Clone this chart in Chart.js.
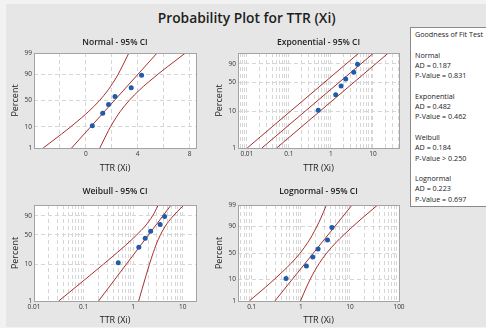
<!DOCTYPE html>
<html>
<head>
<meta charset="utf-8">
<script src="https://cdn.jsdelivr.net/npm/chart.js@4.4.1/dist/chart.umd.min.js"></script>
<style>
  html, body { margin: 0; padding: 0; }
  body { width: 486px; height: 328px; background: #f2f2f2; position: relative; overflow: hidden; font-family: "Open Sans", sans-serif; }
  #panel { position: absolute; left: 6px; top: 4px; width: 480px; height: 323px; background: #e6e6e6; }
  #title { position: absolute; left: 96.7px; width: 300px; top: 8.3px; line-height: 20px; text-align: center; font-weight: 600; font-size: 13.8px; color: #1e1e1e; }
  canvas { position: absolute; }
  #gof { position: absolute; left: 410px; top: 27px; width: 90px; height: 180px; box-sizing: border-box; background: #fff; border: 1px solid #8a8a8a; padding: 1px 0 0 4px; font-size: 7.2px; line-height: 10.3px; color: #222; white-space: pre; }
</style>
</head>
<body>
<div id="panel"></div>
<div id="title">Probability Plot for TTR (Xi)</div>
<canvas id="normal" width="205" height="145" style="left:0px;top:32px"></canvas>
<canvas id="expo" width="205" height="145" style="left:204px;top:32px"></canvas>
<canvas id="weibull" width="205" height="144" style="left:0px;top:184px"></canvas>
<canvas id="lognorm" width="205" height="144" style="left:204px;top:184px"></canvas>
<div id="gof"></div>
<script>
// Data
const ttr = [0.5, 1.3, 1.75, 2.25, 3.5, 4.3];
const percent = [10.9, 26.6, 42.2, 57.8, 73.4, 89.1];
const fitPercent = [1, 99];
const ciPercent = [1, 5, 10, 20, 30, 50, 70, 80, 90, 95, 99];

const normalFit = [-1.10, 5.50];
const normalLower = [-3.29, -1.88, -1.15, -0.32, 0.24, 1.06, 1.73, 2.07, 2.49, 2.79, 3.32];
const normalUpper = [1.08, 1.61, 1.91, 2.33, 2.67, 3.34, 4.16, 4.72, 5.55, 6.28, 7.69];

const expFit = [0.0228, 10.4];
const expLower = [0.0102, 4.65];
const expUpper = [0.0511, 23.3];

const weibullFit = [0.2, 5.82];
const weibullLower = [0.0315, 0.134, 0.252, 0.481, 0.71, 1.19, 1.75, 2.06, 2.46, 2.75, 3.2];
const weibullUpper = [1.29, 1.82, 2.13, 2.55, 2.88, 3.56, 4.47, 5.2, 6.44, 7.71, 10.6];

const lognormFit = [0.296, 11.07];
const lognormLower = [0.0893, 0.194, 0.288, 0.455, 0.62, 0.973, 1.40, 1.69, 2.12, 2.51, 3.33];
const lognormUpper = [0.984, 1.31, 1.55, 1.94, 2.34, 3.37, 5.29, 7.21, 11.4, 16.9, 36.7];

// Tick labels
const normalXTicks = [-2, 0, 2, 4, 6, 8];
const normalXLabels = [0, 4, 8];
const expXLabels = [0.01, 0.1, 1, 10];
const weibullXLabels = [0.01, 0.1, 1, 10];
const lognormXLabels = [0.1, 1, 10, 100];
const yTicksFull = [1, 10, 50, 90, 99];
const yTicksShort = [1, 10, 50, 90];

// Goodness of fit table
const gofNames = ["Normal", "Exponential", "Weibull", "Lognormal"];
const gofAD = ["0.187", "0.482", "0.184", "0.223"];
const gofP = ["= 0.831", "= 0.462", "> 0.250", "= 0.697"];

const RED = "#a8302f";
const BLUE = "#1f5ba8";

// Probability scale transforms
function probit(p) {
  const a = [-39.69683028665376, 220.9460984245205, -275.9285104469687, 138.3577518672690, -30.66479806614716, 2.506628277459239];
  const b = [-54.47609879822406, 161.5858368580409, -155.6989798598866, 66.80131188771972, -13.28068155288572];
  const c = [-0.007784894002430293, -0.3223964580411365, -2.400758277161838, -2.549732539343734, 4.374664141464968, 2.938163982698783];
  const d = [0.007784695709041462, 0.3224671290700398, 2.445134137142996, 3.754408661907416];
  const tail = q => (((((c[0] * q + c[1]) * q + c[2]) * q + c[3]) * q + c[4]) * q + c[5]) / ((((d[0] * q + d[1]) * q + d[2]) * q + d[3]) * q + 1);
  if (p < 0.02425) return tail(Math.sqrt(-2 * Math.log(p)));
  if (p > 1 - 0.02425) return -tail(Math.sqrt(-2 * Math.log(1 - p)));
  const q = p - 0.5, r = q * q;
  return (((((a[0] * r + a[1]) * r + a[2]) * r + a[3]) * r + a[4]) * r + a[5]) * q / (((((b[0] * r + b[1]) * r + b[2]) * r + b[3]) * r + b[4]) * r + 1);
}
const normalY = pct => probit(pct / 100);
const weibullY = pct => Math.log(-Math.log(1 - pct / 100));

const logGrid = (min, max) => {
  const out = [];
  for (let e = -3; e <= 2; e++)
    for (let m = 1; m < 10; m++) {
      const v = +(m * Math.pow(10, e)).toPrecision(3);
      if (v >= min && v <= max) out.push(v);
    }
  return out;
};

Chart.defaults.font.family = '"Open Sans", sans-serif';
Chart.defaults.color = "#333";

// white plot area, frame and panel title
const panelPlugin = {
  id: "panel",
  beforeDraw(chart) {
    const { ctx, chartArea: a } = chart;
    ctx.save();
    ctx.fillStyle = "#fff";
    ctx.fillRect(a.left, a.top, a.width, a.height);
    ctx.restore();
  },
  afterDraw(chart, args, opts) {
    const { ctx, chartArea: a } = chart;
    ctx.save();
    ctx.strokeStyle = "#a3a3a3";
    ctx.lineWidth = 1;
    ctx.strokeRect(Math.round(a.left) + 0.5, Math.round(a.top) + 0.5, Math.round(a.width), Math.round(a.height));
    ctx.fillStyle = "#222";
    ctx.font = '600 8.5px "Open Sans"';
    ctx.textAlign = "center";
    ctx.textBaseline = "middle";
    ctx.fillText(opts.text, (a.left + a.right) / 2, a.top - opts.offset);
    ctx.restore();
  }
};

function makePanel(id, cfg) {
  const yf = cfg.yf;
  const line = (xs, pcts, curved) => ({
    data: xs.map((x, i) => ({ x, y: yf(pcts[i]) })),
    showLine: true,
    borderColor: RED,
    borderWidth: 1,
    pointRadius: 0,
    cubicInterpolationMode: curved ? "monotone" : "default"
  });
  const xTicks = cfg.log ? logGrid(cfg.xMin, cfg.xMax) : cfg.xTicks;
  const isLabel = v => cfg.xLabels.some(l => Math.abs(l - v) < 1e-9);
  const grid = { color: "#d6d6d6", drawTicks: false };
  const border = { display: false, dash: [4, 3] };

  new Chart(document.getElementById(id), {
    type: "scatter",
    data: {
      datasets: [
        { data: ttr.map((x, i) => ({ x, y: yf(percent[i]) })), backgroundColor: BLUE, borderWidth: 0, pointRadius: 2.5 },
        line(cfg.fit, fitPercent, false),
        line(cfg.lower, cfg.ciPct, cfg.ciPct.length > 2),
        line(cfg.upper, cfg.ciPct, cfg.ciPct.length > 2)
      ]
    },
    options: {
      responsive: false,
      animation: false,
      layout: { padding: { top: 21, right: cfg.padRight, left: 0, bottom: 0 } },
      plugins: {
        legend: { display: false },
        tooltip: { enabled: false },
        panel: { text: cfg.title, offset: cfg.titleOffset }
      },
      scales: {
        x: {
          type: cfg.log ? "logarithmic" : "linear",
          min: cfg.xMin,
          max: cfg.xMax,
          bounds: "data",
          grid, border,
          afterBuildTicks: s => { s.ticks = xTicks.map(v => ({ value: v })); },
          afterFit: s => { s.height = cfg.xHeight; },
          ticks: {
            autoSkip: false, maxRotation: 0, padding: 2.6, font: { size: 6.5 },
            callback: v => isLabel(v) ? String(v) : ""
          },
          title: { display: true, text: "TTR (Xi)", font: { size: 9 }, color: "#222", padding: { top: 0, bottom: cfg.xTitlePad } }
        },
        y: {
          type: "linear",
          min: yf(1),
          max: yf(99),
          grid, border,
          afterBuildTicks: s => { s.ticks = cfg.yTicks.map(p => ({ value: yf(p) })); },
          afterFit: s => { s.width = 34; },
          ticks: { autoSkip: false, padding: 2, font: { size: 6.5 }, callback: (v, i) => String(cfg.yTicks[i]) },
          title: { display: true, text: "Percent", font: { size: 9 }, color: "#222", padding: { top: 9.6, bottom: 0 } }
        }
      }
    },
    plugins: [panelPlugin]
  });
}

makePanel("normal", {
  title: "Normal - 95% CI", titleOffset: 10.5, yf: normalY, yTicks: yTicksFull,
  log: false, xMin: -4, xMax: 8.5, xTicks: normalXTicks, xLabels: normalXLabels,
  fit: normalFit, lower: normalLower, upper: normalUpper, ciPct: ciPercent,
  padRight: 9, xHeight: 29, xTitlePad: 3.6
});
makePanel("expo", {
  title: "Exponential - 95% CI", titleOffset: 10.5, yf: weibullY, yTicks: yTicksShort,
  log: true, xMin: 0.00616, xMax: 41.7, xLabels: expXLabels,
  fit: expFit, lower: expLower, upper: expUpper, ciPct: fitPercent,
  padRight: 10, xHeight: 29, xTitlePad: 3.6
});
makePanel("weibull", {
  title: "Weibull - 95% CI", titleOffset: 13.3, yf: weibullY, yTicks: yTicksShort,
  log: true, xMin: 0.01, xMax: 18.5, xLabels: weibullXLabels,
  fit: weibullFit, lower: weibullLower, upper: weibullUpper, ciPct: ciPercent,
  padRight: 9, xHeight: 27, xTitlePad: 2.6
});
makePanel("lognorm", {
  title: "Lognormal - 95% CI", titleOffset: 13.3, yf: normalY, yTicks: yTicksFull,
  log: true, xMin: 0.0526, xMax: 100, xLabels: lognormXLabels,
  fit: lognormFit, lower: lognormLower, upper: lognormUpper, ciPct: ciPercent,
  padRight: 10, xHeight: 27, xTitlePad: 2.6
});

// Goodness of fit text box
const gofLines = ["Goodness of Fit Test"];
gofNames.forEach((n, i) => {
  gofLines.push("", n, "AD = " + gofAD[i], "P-Value " + gofP[i]);
});
document.getElementById("gof").textContent = gofLines.join("\n");
</script>
</body>
</html>
